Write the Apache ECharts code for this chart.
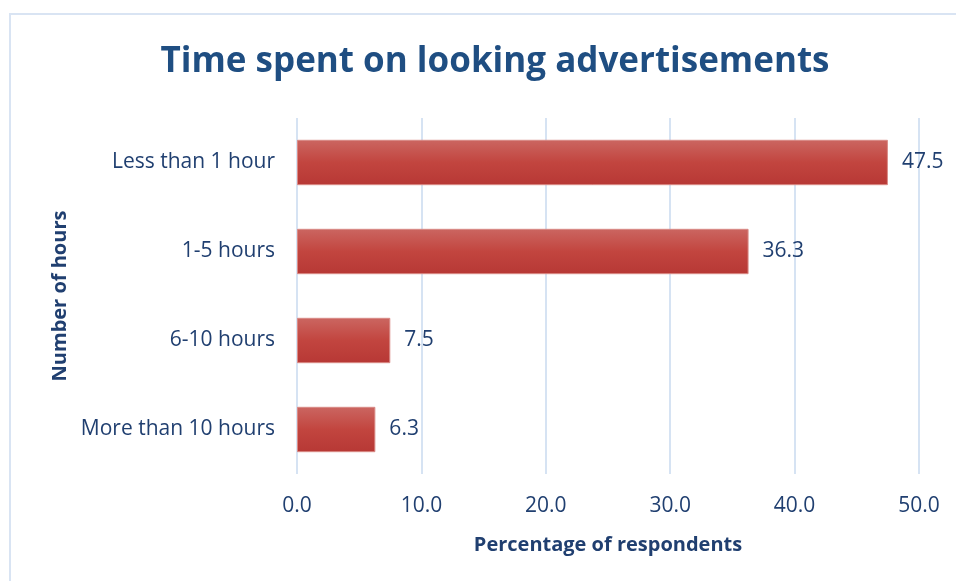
<!DOCTYPE html>
<html>
<head>
<meta charset="utf-8">
<script src="https://cdn.jsdelivr.net/npm/echarts@6/dist/echarts.min.js"></script>
<style>
  html, body { margin: 0; padding: 0; background: #ffffff; }
  #chart { width: 956px; height: 581px; }
</style>
</head>
<body>
<div id="chart"></div>
<script>
// Survey: hours spent looking at advertisements
const categories = ['More than 10 hours', '6-10 hours', '1-5 hours', 'Less than 1 hour'];
const percentages = [6.3, 7.5, 36.3, 47.5];
const xTicks = { min: 0, max: 50, interval: 10 };

const textBlue = '#203f70';
const fontFamily = '"Open Sans", Lato, sans-serif';

const chart = echarts.init(document.getElementById('chart'));
chart.setOption({
  animation: false,
  backgroundColor: '#ffffff',
  graphic: [{
    type: 'rect',
    shape: { x: 10, y: 14, width: 1000, height: 700 },
    style: { fill: 'none', stroke: '#d9e4f3', lineWidth: 2 },
    silent: true
  }],
  title: {
    text: 'Time spent on looking advertisements',
    left: 490,
    textAlign: 'center',
    top: 40,
    textStyle: { color: '#1f4e82', fontSize: 35, fontWeight: 'bold', fontFamily: fontFamily }
  },
  grid: { left: 297, right: 37, top: 118, bottom: 107, containLabel: false },
  xAxis: {
    type: 'value',
    min: xTicks.min, max: xTicks.max, interval: xTicks.interval,
    name: 'Percentage of respondents',
    nameLocation: 'middle',
    nameGap: 61,
    nameTextStyle: { color: textBlue, fontSize: 20, fontWeight: 'bold', fontFamily: fontFamily },
    axisLine: { show: false },
    axisTick: { show: false },
    axisLabel: {
      color: textBlue, fontSize: 21, fontFamily: fontFamily, margin: 22,
      formatter: v => v.toFixed(1)
    },
    splitLine: { show: true, lineStyle: { color: '#d6e3f3', width: 2 } }
  },
  yAxis: {
    type: 'category',
    data: categories,
    name: 'Number of hours',
    nameLocation: 'middle',
    nameGap: 227,
    nameRotate: 90,
    nameTextStyle: { color: textBlue, fontSize: 20, fontWeight: 'bold', fontFamily: fontFamily },
    axisLine: { show: false },
    axisTick: { show: false },
    axisLabel: { color: textBlue, fontSize: 21, fontFamily: fontFamily, margin: 22 },
    splitLine: { show: false }
  },
  series: [{
    type: 'bar',
    data: percentages,
    barWidth: '51%',
    itemStyle: {
      color: new echarts.graphic.LinearGradient(0, 0, 0, 1, [
        { offset: 0, color: '#cb6661' },
        { offset: 0.5, color: '#c2453f' },
        { offset: 1, color: '#b73835' }
      ]),
      borderColor: '#d98a86',
      borderWidth: 1
    },
    label: {
      show: true,
      position: 'right',
      distance: 14,
      color: textBlue,
      fontSize: 21,
      fontFamily: fontFamily,
      formatter: p => p.value.toFixed(1)
    }
  }]
});
</script>
</body>
</html>
